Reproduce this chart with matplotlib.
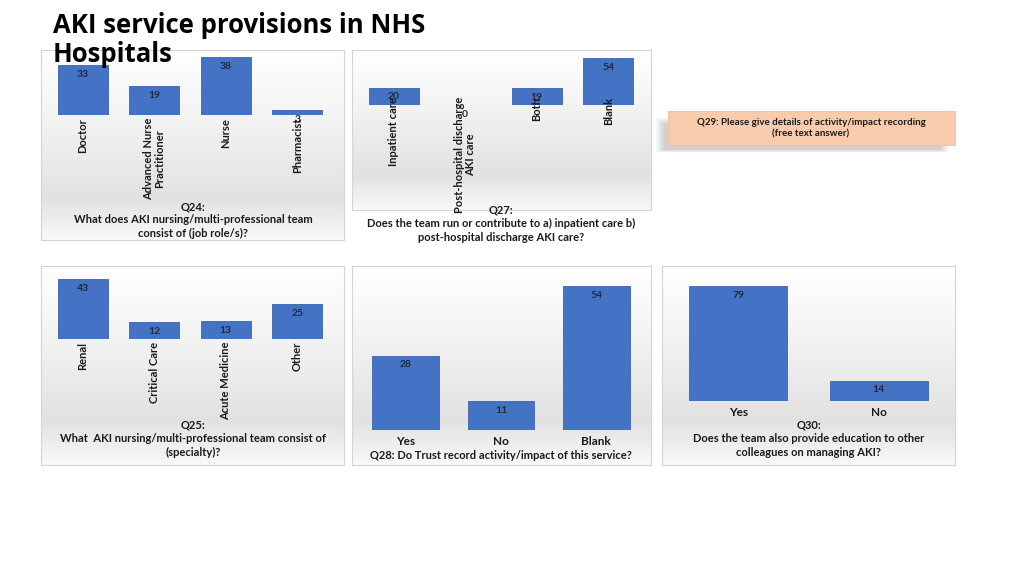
import matplotlib
matplotlib.use("Agg")
import matplotlib.pyplot as plt
import numpy as np
from matplotlib.patches import Rectangle

plt.rcParams['font.family'] = ['Lato', 'DejaVu Sans']

W, H = 1024, 575

## data
q24_roles = ["Doctor", "Advanced Nurse\nPractitioner", "Nurse", "Pharmacist"]
q24_counts = [33, 19, 38, 3]

q27_care = ["Inpatient care", "Post-hospital discharge\nAKI care", "Both", "Blank"]
q27_counts = [20, 0, 19, 54]

q25_specialty = ["Renal", "Critical Care", "Acute Medicine", "Other"]
q25_counts = [43, 12, 13, 25]

q28_answers = ["Yes", "No", "Blank"]
q28_counts = [28, 11, 54]

q30_answers = ["Yes", "No"]
q30_counts = [79, 14]

BAR = "#4472C4"
EDGE = "#3b63ab"
TXT = "#1a1a1a"

fig = plt.figure(figsize=(W / 100, H / 100), dpi=100)
fig.patch.set_facecolor("white")


def px_axes(x0, y0, x1, y1, **kw):
    # pixel box (top-left origin) -> figure axes
    return fig.add_axes([x0 / W, 1 - y1 / H, (x1 - x0) / W, (y1 - y0) / H], **kw)


def panel_bg(x0, y0, x1, y1):
    bg = px_axes(x0, y0, x1, y1, zorder=0)
    stops = [0.0, 0.35, 0.78, 1.0]
    vals = [1.0, 0.955, 0.885, 0.975]
    g = np.interp(np.linspace(0, 1, 200), stops, vals)
    img = np.dstack([g, g, g]).reshape(200, 1, 3)
    bg.imshow(img, aspect="auto", extent=[0, 1, 0, 1], origin="upper")
    bg.set_xlim(0, 1)
    bg.set_ylim(0, 1)
    bg.set_xticks([])
    bg.set_yticks([])
    for s in bg.spines.values():
        s.set_color("#d4d4d4")
        s.set_linewidth(0.8)
    return bg


def bar_panel(box, counts, labels, ymax, rot, label_pad=2, lab_size=8):
    ax = px_axes(*box, zorder=2)
    ax.patch.set_alpha(0)
    x = np.arange(len(counts))
    ax.bar(x, counts, width=0.7, color=BAR, edgecolor=EDGE, linewidth=0.6)
    for xi, v in zip(x, counts):
        ax.annotate(str(v), (xi, v), xytext=(0, -3.5), textcoords="offset points",
                    ha="center", va="top", fontsize=7.5, fontweight="bold", color="#222a3a")
    ax.set_xlim(-0.5, len(counts) - 0.5)
    ax.set_ylim(0, ymax)
    ax.set_yticks([])
    ax.set_xticks(x)
    if rot:
        ax.set_xticklabels(labels, rotation=90, fontsize=lab_size, fontweight="bold",
                           color=TXT, va="top", ha="center", linespacing=1.0)
    else:
        ax.set_xticklabels(labels, fontsize=lab_size, fontweight="bold", color=TXT)
    ax.tick_params(axis="x", length=0, pad=label_pad)
    for s in ax.spines.values():
        s.set_visible(False)
    return ax


def panel_title(cx, top, txt):
    fig.text(cx / W, 1 - top / H, txt, ha="center", va="top", fontsize=8,
             fontweight="bold", color=TXT, linespacing=1.25, zorder=5)


# Q24
panel_bg(41, 50, 344, 240)
bar_panel((47, 54, 333, 115), q24_counts, q24_roles, 40, True)
panel_title(193, 201, "Q24:\nWhat does AKI nursing/multi-professional team\nconsist of (job role/s)?")

# Q27
panel_bg(352, 50, 651, 210)
bar_panel((358, 56, 644, 105), q27_counts, q27_care, 56, True, label_pad=-6)
panel_title(501, 205, "Q27:\nDoes the team run or contribute to a) inpatient care b)\npost-hospital discharge AKI care?")

# Q25
panel_bg(41, 266, 344, 465)
bar_panel((47, 276, 333, 339), q25_counts, q25_specialty, 45, True)
panel_title(193, 420, "Q25:\nWhat  AKI nursing/multi-professional team consist of\n(specialty)?")

# Q28
panel_bg(352, 266, 651, 465)
bar_panel((358, 281, 644, 430), q28_counts, q28_answers, 56, False, label_pad=4, lab_size=8.5)
panel_title(501, 450, "Q28: Do Trust record activity/impact of this service?")

# Q30
panel_bg(662, 266, 955, 465)
bar_panel((668, 283, 949, 401), q30_counts, q30_answers, 81, False, label_pad=4, lab_size=8.5)
panel_title(809, 420, "Q30:\nDoes the team also provide education to other\ncolleagues on managing AKI?")

# Q29 free text box with shadow
ov = px_axes(0, 0, W, H, zorder=1)
ov.set_xlim(0, W)
ov.set_ylim(H, 0)
ov.axis("off")
ov.patch.set_alpha(0)
for i in range(6):
    ov.add_patch(Rectangle((656 + i * 1.5, 118 + i), 292 - i * 3, 34 - i * 1.5,
                           facecolor="#707070", alpha=0.06, edgecolor="none"))
ov.add_patch(Rectangle((668, 111), 287, 34, facecolor="#F8CBAD", edgecolor="#f0b894",
                       linewidth=0.5))
ov.text(811, 128, "Q29: Please give details of activity/impact recording\n(free text answer)",
        ha="center", va="center", fontsize=7, fontweight="bold", color=TXT, linespacing=1.3)

# slide title
fig.text(53 / W, 1 - 12 / H, "AKI service provisions in NHS\nHospitals", ha="left", va="top",
         fontsize=18.5, fontweight="bold", color="black", linespacing=1.1, zorder=5,
         family=["Open Sans", "DejaVu Sans"])

fig.savefig("out.png", dpi=100)
